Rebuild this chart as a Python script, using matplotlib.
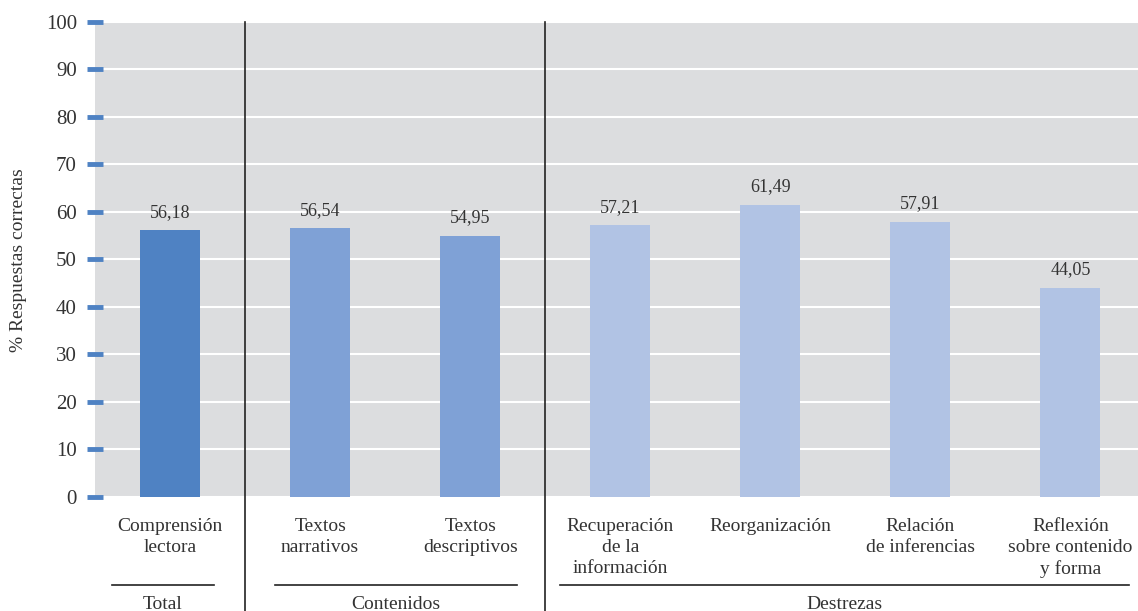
import matplotlib
matplotlib.use('Agg')
from matplotlib import pyplot as plt
import matplotlib.transforms as mtransforms

# datos
categorias = ['Comprensión\nlectora', 'Textos\nnarrativos', 'Textos\ndescriptivos',
              'Recuperación\nde la\ninformación', 'Reorganización',
              'Relación\nde inferencias', 'Reflexión\nsobre contenido\ny forma']
valores = [56.18, 56.54, 54.95, 57.21, 61.49, 57.91, 44.05]
etiquetas = ['56,18', '56,54', '54,95', '57,21', '61,49', '57,91', '44,05']
colores = ['#4F82C3', '#7FA1D6', '#7FA1D6', '#B1C3E4', '#B1C3E4', '#B1C3E4', '#B1C3E4']
grupos = ['Total', 'Contenidos', 'Destrezas']
grupo_rangos = [(-0.39, 0.29), (0.70, 2.31), (2.60, 6.39)]
separadores = [0.5, 2.5]
yticks = [0, 10, 20, 30, 40, 50, 60, 70, 80, 90, 100]

plt.rcParams['font.family'] = ['Liberation Serif', 'DejaVu Serif']
texto = '#333333'

fig = plt.figure(figsize=(11.38, 6.11), dpi=100)
ax = fig.add_axes([0.0835, 0.1866, 0.9165, 0.7774])
ax.set_facecolor('#DCDDDF')
ax.set_axisbelow(True)

x = list(range(len(valores)))
ax.bar(x, valores, width=0.4, color=colores)
for xi, v, e in zip(x, valores, etiquetas):
    ax.text(xi, v + 2.0, e, ha='center', va='bottom', fontsize=13, color=texto)

ax.set_xlim(-0.5, 6.45)
ax.set_ylim(0, 100)
ax.set_yticks(yticks)
ax.set_yticklabels([str(t) for t in yticks], fontsize=15, color=texto)
ax.tick_params(axis='y', direction='inout', length=12, width=3.5, color='#4F82C3', pad=7)
ax.yaxis.grid(True, color='white', linewidth=1.5)
ax.set_xticks([])
for s in ax.spines.values():
    s.set_visible(False)

trans = mtransforms.blended_transform_factory(ax.transData, ax.transAxes)
for xi, c in zip(x, categorias):
    ax.text(xi, -0.045, c, transform=trans, ha='center', va='top', fontsize=14,
            color=texto, linespacing=1.3)

for s in separadores:
    ax.plot([s, s], [1, -0.24], transform=trans, color='#222222', linewidth=1.2,
            clip_on=False)

for g, (a, b) in zip(grupos, grupo_rangos):
    ax.plot([a, b], [-0.185, -0.185], transform=trans, color='#222222', linewidth=1.2,
            clip_on=False)
    ax.text((a + b) / 2, -0.208, g, transform=trans, ha='center', va='top',
            fontsize=14, color=texto)

fig.text(0.016, 0.574, '% Respuestas correctas', rotation=90, ha='center', va='center',
         fontsize=14, color=texto)

fig.savefig('out.png', dpi=100)
